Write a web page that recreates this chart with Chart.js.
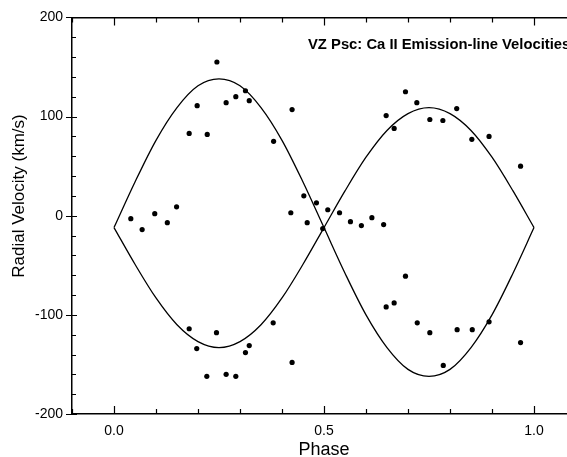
<!DOCTYPE html>
<html>
<head>
<meta charset="utf-8">
<script src="https://cdn.jsdelivr.net/npm/chart.js@4.4.1/dist/chart.umd.min.js"></script>
<style>
  html, body { margin: 0; padding: 0; background: #fff; overflow: hidden; }
  canvas { display: block; }
</style>
</head>
<body>
<canvas id="chart" width="600" height="470"></canvas>
<script>
// observed Ca II emission-line velocities (phase, km/s)
const obsPhase = [
    0.040, 0.067, 0.097, 0.127, 0.149,
    0.179, 0.179, 0.197, 0.198, 0.221, 0.222, 0.244, 0.245,
    0.267, 0.267, 0.290, 0.290, 0.313, 0.313, 0.322, 0.322,
    0.379, 0.380, 0.421, 0.424, 0.424,
    0.452, 0.460, 0.482, 0.497, 0.509, 0.537, 0.563, 0.589, 0.614, 0.642,
    0.648, 0.648, 0.667, 0.667, 0.694, 0.694, 0.721, 0.722,
    0.752, 0.752, 0.783, 0.784, 0.816, 0.817, 0.852, 0.853,
    0.893, 0.893, 0.968, 0.968
];
const obsVelocity = [
    -3, -14, 2, -7, 9,
    83, -114, -134, 111, -162, 82, -118, 155,
    114, -160, 120, -162, 126, -138, 116, -131,
    -108, 75, 3, 107, -148,
    20, -7, 13, -13, 6, 3, -6, -10, -2, -9,
    101, -92, 88, -88, 125, -61, 114, -108,
    97, -118, 96, -151, 108, -115, 77, -115,
    80, -107, 50, -128
];

// the two fitted orbit curves
const curvePhase = [0, 0.05, 0.10, 0.15, 0.20, 0.25, 0.30, 0.35, 0.40, 0.45, 0.50,
    0.55, 0.60, 0.65, 0.70, 0.75, 0.80, 0.85, 0.90, 0.95, 1.0];
const curvePrimary = [-12, 34, 76, 109, 131, 138, 131, 109, 76, 34, -12,
    -58, -100, -133, -155, -162, -155, -133, -100, -58, -12];
const curveSecondary = [-12, -49, -83, -110, -127, -133, -127, -110, -83, -49, -12,
    25, 59, 86, 103, 109, 103, 86, 59, 25, -12];

const xTicks = [0, 0.5, 1.0];
const yTicks = [-200, -100, 0, 100, 200];

const titleText = 'VZ Psc: Ca II Emission-line Velocities';
const yTitle = 'Radial Velocity (km/s)';
const FONT = '"Liberation Sans", Arial, Helvetica, sans-serif';

const toPoints = (xs, ys) => xs.map((x, i) => ({ x, y: ys[i] }));

function curveDataset(values) {
    return {
        data: toPoints(curvePhase, values),
        showLine: true,
        borderColor: '#000',
        borderWidth: 1.3,
        pointRadius: 0,
        cubicInterpolationMode: 'monotone',
        fill: false
    };
}

// tick marks like the original plot: minor inward, majors a bit longer
const frameTicks = {
    id: 'frameTicks',
    afterDraw(chart) {
        const { ctx, chartArea: area } = chart;
        const x = chart.scales.x, y = chart.scales.y;
        ctx.save();
        ctx.strokeStyle = '#000';
        ctx.lineWidth = 1.2;
        ctx.beginPath();
        for (let i = -1; i <= 11; i++) {
            const px = Math.round(x.getPixelForValue(i / 10)) + 0.5;
            const len = i % 5 === 0 ? 8 : 5;
            ctx.moveTo(px, area.bottom);
            ctx.lineTo(px, area.bottom - len);
            ctx.moveTo(px, area.top);
            ctx.lineTo(px, area.top + len);
        }
        for (let i = -10; i <= 10; i++) {
            const py = Math.round(y.getPixelForValue(i * 20)) + 0.5;
            if (i % 5 === 0) {
                ctx.moveTo(area.left - 6, py);
                ctx.lineTo(area.left + 5, py);
            } else {
                ctx.moveTo(area.left, py);
                ctx.lineTo(area.left + 4, py);
            }
        }
        ctx.stroke();
        ctx.restore();
    }
};

const labels = {
    id: 'labels',
    afterDraw(chart) {
        const { ctx } = chart;
        ctx.save();
        ctx.fillStyle = '#000';
        ctx.font = 'bold 14.8px ' + FONT;
        ctx.textAlign = 'left';
        ctx.textBaseline = 'middle';
        ctx.fillText(titleText, 308, 45);

        ctx.translate(19, 196);
        ctx.rotate(-Math.PI / 2);
        ctx.font = '17px ' + FONT;
        ctx.textAlign = 'center';
        ctx.fillText(yTitle, 0, 0);
        ctx.restore();
    }
};

new Chart(document.getElementById('chart'), {
    type: 'scatter',
    data: {
        datasets: [
            {
                data: toPoints(obsPhase, obsVelocity),
                pointRadius: 2.6,
                pointBackgroundColor: '#000',
                pointBorderWidth: 0
            },
            curveDataset(curvePrimary),
            curveDataset(curveSecondary)
        ]
    },
    options: {
        responsive: false,
        animation: false,
        devicePixelRatio: 1,
        layout: { padding: { left: 0, right: 24, top: 0, bottom: 0 } },
        plugins: {
            legend: { display: false },
            tooltip: { enabled: false }
        },
        scales: {
            x: {
                type: 'linear',
                position: 'bottom',
                min: -0.1,
                max: 1.1,
                afterBuildTicks: s => { s.ticks = xTicks.map(v => ({ value: v })); },
                afterFit: s => { s.height = 56; },
                grid: { display: false, drawTicks: false },
                border: { display: true, color: '#000', width: 1.5 },
                ticks: {
                    color: '#000',
                    padding: 9,
                    font: { family: FONT, size: 14 },
                    callback: v => v.toFixed(1)
                },
                title: {
                    display: true,
                    text: 'Phase',
                    color: '#000',
                    font: { family: FONT, size: 18 },
                    padding: { top: 0, bottom: 9 }
                }
            },
            xTop: {
                type: 'linear',
                position: 'top',
                min: -0.1,
                max: 1.1,
                afterFit: s => { s.height = 17; },
                grid: { display: false, drawTicks: false },
                border: { display: true, color: '#000', width: 1.5 },
                ticks: { display: false }
            },
            y: {
                type: 'linear',
                min: -200,
                max: 200,
                afterBuildTicks: s => { s.ticks = yTicks.map(v => ({ value: v })); },
                afterFit: s => { s.width = 72; },
                grid: { display: false, drawTicks: false },
                border: { display: true, color: '#000', width: 1.5 },
                ticks: {
                    color: '#000',
                    padding: 9,
                    font: { family: FONT, size: 14 },
                    callback: v => String(v)
                }
            }
        }
    },
    plugins: [frameTicks, labels]
});
</script>
</body>
</html>
